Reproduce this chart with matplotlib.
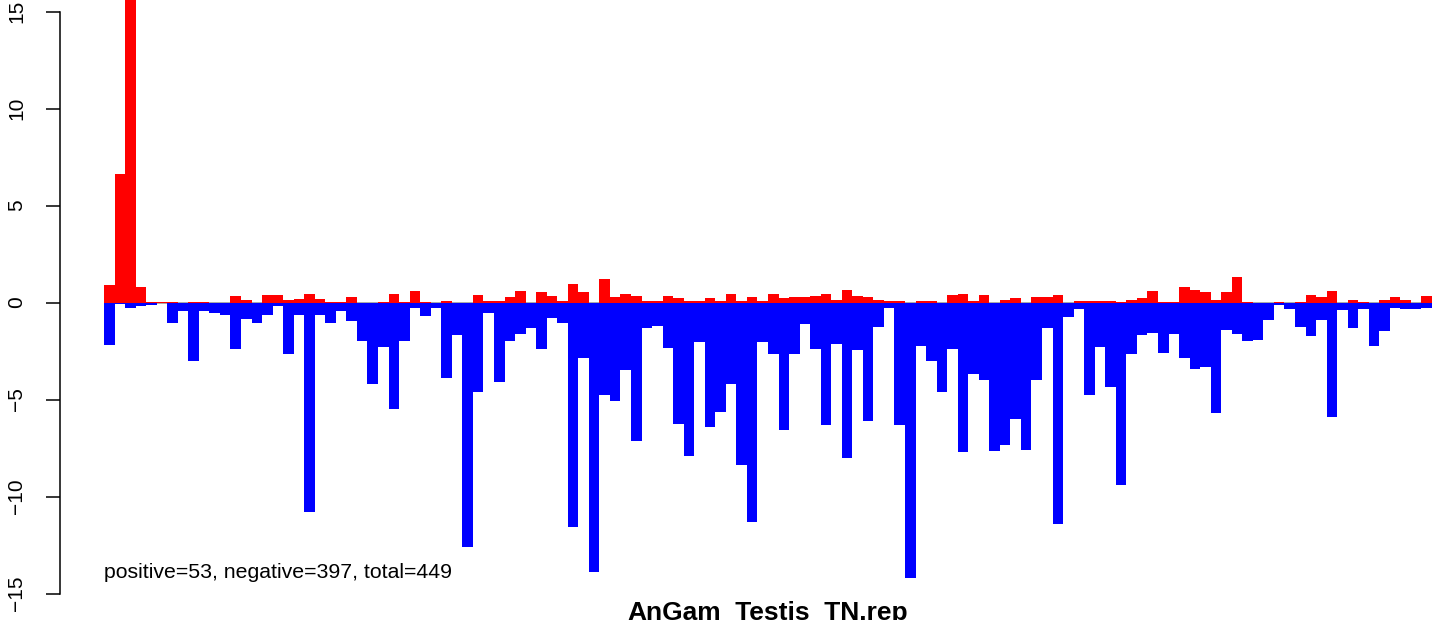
import matplotlib
matplotlib.use("Agg")
import matplotlib.pyplot as plt
import numpy as np

TITLE = "AnGam_Testis_TN.rep"
NOTE = "positive=53, negative=397, total=449"

POSITIVE = [
  0.88, 6.6, 18.0, 0.82, 0.05, 0.05, 0.05, 0, 0.05, 0.05,
  0, 0, 0.36, 0.15, 0, 0.41, 0.41, 0.15, 0.2, 0.46,
  0.2, 0.05, 0.05, 0.26, 0, 0, 0.05, 0.46, 0.05, 0.57,
  0.05, 0, 0.07, 0, 0, 0.41, 0.07, 0.07, 0.26, 0.57,
  0, 0.52, 0.36, 0.07, 0.93, 0.52, 0, 1.19, 0.26, 0.46,
  0.36, 0.07, 0.07, 0.31, 0.21, 0.07, 0.07, 0.21, 0.07, 0.46,
  0.07, 0.26, 0.07, 0.46, 0.21, 0.26, 0.26, 0.36, 0.46, 0.15,
  0.67, 0.31, 0.26, 0.15, 0.07, 0.07, 0, 0.07, 0.07, 0,
  0.41, 0.46, 0.07, 0.41, 0, 0.15, 0.21, 0, 0.26, 0.26,
  0.41, 0, 0.07, 0.07, 0.07, 0.07, 0.05, 0.15, 0.21, 0.57,
  0.05, 0.05, 0.82, 0.62, 0.52, 0.15, 0.52, 1.29, 0.05, 0,
  0, 0.05, 0, 0.05, 0.41, 0.26, 0.57, 0, 0.15, 0.05,
  0, 0.15, 0.26, 0.15, 0, 0.31,
]

NEGATIVE = [
  -2.2, -0.08, -0.26, -0.2, -0.14, 0, -1.07, -0.45, -3.0, -0.45,
  -0.52, -0.62, -2.42, -0.86, -1.07, -0.62, -0.2, -2.63, -0.62, -10.8,
  -0.62, -1.07, -0.45, -0.93, -2.0, -4.18, -2.3, -5.5, -2.0, -0.27,
  -0.72, -0.3, -3.87, -1.70, -12.6, -4.59, -0.52, -4.12, -1.96, -1.6,
  -1.32, -2.42, -0.82, -1.07, -11.55, -2.84, -13.9, -4.79, -5.1, -3.5,
  -7.16, -1.32, -1.19, -2.32, -6.24, -7.89, -2.06, -6.44, -5.62, -4.18,
  -8.4, -11.3, -2.06, -2.68, -6.55, -2.68, -1.13, -2.42, -6.34, -2.16,
  -7.99, -2.47, -6.13, -1.24, -0.26, -6.34, -14.2, -2.22, -3.04, -4.59,
  -2.42, -7.73, -3.71, -4.02, -7.63, -7.37, -6.03, -7.58, -3.97, -1.34,
  -11.4, -0.77, -0.36, -4.79, -2.27, -4.38, -9.43, -2.63, -1.65, -1.55,
  -2.58, -1.6, -2.84, -3.45, -3.3, -5.72, -1.44, -1.6, -2.01, -1.91,
  -0.88, -0.15, -0.36, -1.24, -1.75, -0.88, -5.88, -0.41, -1.29, -0.36,
  -2.22, -1.49, -0.26, -0.36, -0.36, -0.26,
]

Y_TICKS = [-15, -10, -5, 0, 5, 10, 15]

W, H = 1444, 620
ZERO_PX = 302.5
PX_PER_UNIT = 19.4
BAR_LEFT_PX = 104
BAR_W_PX = (1432 - 104) / len(POSITIVE)
AXIS_PX = 60

plt.rcParams["font.family"] = ["Liberation Sans", "DejaVu Sans"]

fig = plt.figure(figsize=(W / 100, H / 100), dpi=100)

y_lo, y_hi = -16, 16
top_px = ZERO_PX - PX_PER_UNIT * y_hi
bot_px = ZERO_PX - PX_PER_UNIT * y_lo
ax = fig.add_axes([AXIS_PX / W, (H - bot_px) / H, (W - AXIS_PX) / W, (bot_px - top_px) / H])
ax.set_ylim(y_lo, y_hi)
ax.set_xlim(-(BAR_LEFT_PX - AXIS_PX) / BAR_W_PX, (W - BAR_LEFT_PX) / BAR_W_PX)
ax.patch.set_alpha(0)

x = np.arange(len(POSITIVE))
ax.hlines(0, 0, len(POSITIVE), color="#999999", linewidth=1.2, zorder=1)
ax.bar(x, POSITIVE, width=1.0, align="edge", color="#ff0000", linewidth=0, zorder=2)
ax.bar(x, NEGATIVE, width=1.0, align="edge", color="#0000ff", linewidth=0, zorder=3)

for s in ["top", "right", "bottom"]:
  ax.spines[s].set_visible(False)
ax.spines["left"].set_bounds(-15, 15)
ax.spines["left"].set_linewidth(1.1)
ax.set_xticks([])
ax.set_yticks(Y_TICKS)
ax.set_yticklabels([str(t).replace("-", "\u2212") for t in Y_TICKS])
ax.tick_params(axis="y", length=10, width=1.1, labelsize=15, pad=21)
plt.setp(ax.get_yticklabels(), rotation=90, va="center", ha="center")

ax.text(0, -14.2, NOTE, fontsize=15.3, ha="left", va="baseline", zorder=5)
fig.text(768 / W, 0, TITLE, fontsize=19, fontweight="bold", ha="center", va="baseline")

fig.savefig("out.png", dpi=100)
